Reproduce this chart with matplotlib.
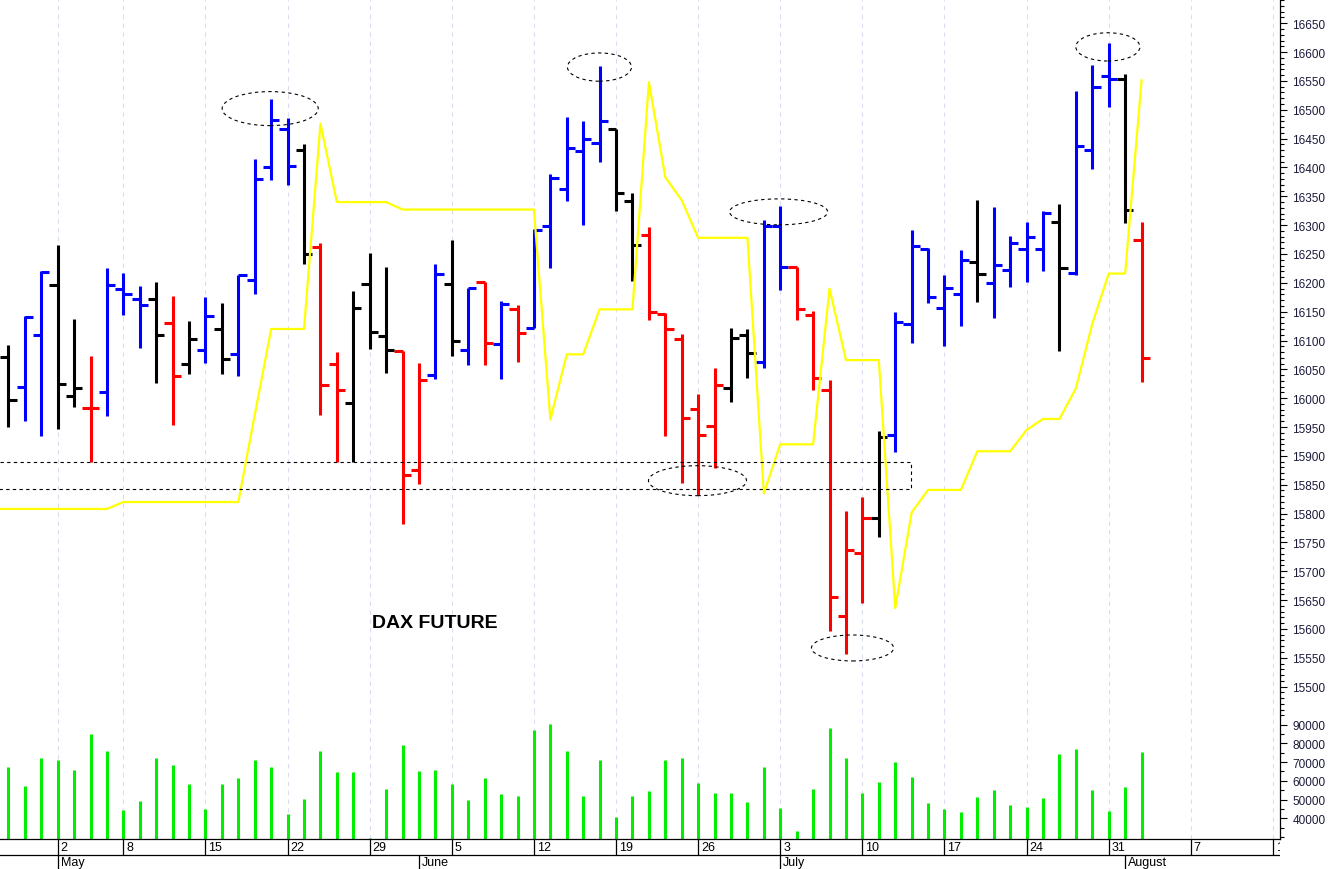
import numpy as np
import matplotlib.pyplot as plt
from matplotlib.patches import Ellipse, Rectangle
from matplotlib.ticker import MultipleLocator, FixedLocator

plt.rcParams['font.family'] = ['Liberation Sans', 'DejaVu Sans']

# daily DAX future bars, end of April to start of August
opens = [16071, 16019, 16110, 16197, 16004, 15983, 16011, 16189, 16172, 16172,
         16130, 16060, 16084, 16120, 16077, 16205, 16401, 16466, 16431, 16262,
         16060, 15992, 16198, 16108, 16082, 15875, 16041, 16198, 16083, 16201,
         16094, 16154, 16122, 16299, 16363, 16428, 16442, 16466, 16341, 16283,
         16146, 16103, 15982, 15952, 16017, 16110, 16062, 16298, 16228, 16145,
         16015, 15622, 15732, 15792, 15936, 16128, 16259, 16156, 16181, 16236,
         16199, 16223, 16258, 16258, 16305, 16217, 16431, 16558, 16554, 16275]
highs = [16093, 16142, 16220, 16266, 16138, 16073, 16226, 16217, 16195, 16201,
         16178, 16134, 16175, 16165, 16214, 16415, 16518, 16486, 16440, 16269,
         16080, 16186, 16252, 16228, 16082, 16061, 16233, 16275, 16191, 16201,
         16169, 16162, 16294, 16388, 16487, 16481, 16575, 16466, 16356, 16297,
         16147, 16112, 16008, 16052, 16122, 16120, 16309, 16333, 16228, 16152,
         16031, 15805, 15829, 15943, 16150, 16292, 16260, 16213, 16257, 16343,
         16331, 16282, 16305, 16325, 16336, 16533, 16578, 16616, 16562, 16306]
lows = [15950, 15960, 15934, 15946, 15985, 15889, 15969, 16145, 16087, 16026,
        15954, 16042, 16061, 16042, 16038, 16181, 16379, 16369, 16232, 15971,
        15890, 15889, 16086, 16044, 15782, 15851, 16034, 16074, 16058, 16057,
        16034, 16063, 16122, 16226, 16342, 16301, 16410, 16325, 16203, 16135,
        15935, 15853, 15832, 15879, 15994, 16035, 16053, 16188, 16136, 16014,
        15597, 15557, 15645, 15759, 15906, 16096, 16165, 16091, 16125, 16167,
        16139, 16193, 16201, 16220, 16082, 16214, 16398, 16505, 16304, 16028]
closes = [15997, 16141, 16219, 16025, 16017, 15983, 16197, 16181, 16162, 16110,
          16038, 16103, 16142, 16068, 16214, 16380, 16483, 16402, 16250, 16023,
          16014, 16156, 16115, 16084, 15866, 16031, 16216, 16099, 16191, 16096,
          16164, 16113, 16291, 16382, 16434, 16450, 16481, 16356, 16266, 16149,
          16120, 15966, 15936, 16023, 16104, 16078, 16299, 16228, 16155, 16035,
          15655, 15736, 15792, 15932, 16132, 16263, 16175, 16191, 16240, 16216,
          16231, 16269, 16279, 16321, 16225, 16438, 16539, 16554, 16327, 16069]
bar_colour = list("kbbkkrbbbkrkbkbbbbkrrkkkrrbkbrbrbbbbbkkrrrrrkkbbrrrrrkbbbbbkbbbbkbbbkr")

# yellow stop line, first value belongs to the bar just left of the window
stop_line = [15808,
             15808, 15808, 15808, 15808, 15808, 15808, 15808, 15820, 15820, 15820,
             15820, 15820, 15820, 15820, 15820, 15971, 16120, 16120, 16120, 16476,
             16340, 16340, 16340, 16340, 16327, 16327, 16327, 16327, 16327, 16327,
             16327, 16327, 16327, 15963, 16076, 16076, 16154, 16154, 16154, 16548,
             16383, 16343, 16278, 16278, 16278, 16278, 15835, 15920, 15920, 15920,
             16190, 16066, 16066, 16066, 15636, 15802, 15841, 15841, 15841, 15908,
             15908, 15908, 15945, 15964, 15964, 16017, 16129, 16216, 16216, 16551]

volume = [67400, 57250, 72050, 71000, 65800, 85000, 75800, 44300, 49200, 72200,
          68300, 58200, 45100, 58200, 61400, 71000, 67200, 42300, 50500, 75800,
          64600, 64600, 29300, 55700, 79000, 65100, 65800, 58200, 49600, 61500,
          53000, 51900, 87000, 90400, 75800, 51900, 71100, 40700, 51900, 54600,
          71100, 72000, 58700, 53400, 53400, 48900, 67400, 45300, 33000, 55700,
          88100, 72000, 53500, 59200, 69900, 61900, 48000, 45000, 43200, 51400,
          55100, 46900, 45900, 50700, 74400, 76900, 55100, 43700, 56600, 75300]

day_pos = [3, 7, 12, 17, 22, 27, 32, 37, 42, 47, 52, 57, 62, 67, 72, 77]
day_labels = ['2', '8', '15', '22', '29', '5', '12', '19', '26', '3', '10', '17', '24', '31', '7', '14']
month_pos = [3, 25, 47, 68]
month_labels = ['May', 'June', 'July', 'August']

# dotted annotations: (x centre, price centre, width in bars, height in points)
circles = [(15.94, 16502, 5.85, 59), (35.99, 16574, 3.9, 49), (46.9, 16323, 5.97, 45),
           (41.96, 15857, 5.97, 52), (51.4, 15567, 5.0, 45), (66.95, 16609, 3.9, 49)]
zone = (15843, 15890, 54.94)

colour_map = {'b': '#0000ff', 'r': '#ff0000', 'k': '#000000'}
x = np.arange(len(opens))
o, h, l, c = map(np.array, (opens, highs, lows, closes))
codes = np.array(bar_colour)

W, H = 1328, 870
fig = plt.figure(figsize=(W / 100, H / 100), dpi=100)
right = 1280 / W
ax_p = fig.add_axes([0, (H - 713) / H, right, 713 / H])
ax_v = fig.add_axes([0, 30 / H, right, 127 / H], sharex=ax_p)
ax_d = fig.add_axes([0, 0, right, 30 / H], sharex=ax_p)

grid_kw = dict(color='#dcdcf0', lw=0.8, ls=(0, (4, 4)))
lab_col = '#1a1a3a'

# price bars
for code, col in colour_map.items():
    m = codes == code
    ax_p.vlines(x[m], l[m], h[m], color=col, lw=2.2, zorder=2)
    ax_p.hlines(o[m], x[m] - 0.5, x[m], color=col, lw=2.2, zorder=2)
    ax_p.hlines(c[m], x[m], x[m] + 0.5, color=col, lw=2.2, zorder=2)
ax_p.plot(np.arange(-1, len(opens)), stop_line, color='#ffff00', lw=1.6, zorder=3)

for cx, cy, w, hh in circles:
    ax_p.add_patch(Ellipse((cx, cy), w, hh, fill=False, ec='black', lw=0.8, ls=(0, (3, 3)), zorder=4))
ax_p.add_patch(Rectangle((-0.8, zone[0]), zone[2] + 0.8, zone[1] - zone[0], fill=False,
                         ec='black', lw=0.8, ls=(0, (3, 3)), zorder=4))
ax_p.text(25.94, 15612, 'DAX FUTURE', ha='center', va='center', fontsize=14, fontweight='bold')

ax_p.set_ylim(15456, 16692)
ax_p.yaxis.tick_right()
ax_p.yaxis.set_major_locator(MultipleLocator(50))
ax_p.yaxis.set_minor_locator(MultipleLocator(10))
ax_p.set_yticks(np.arange(15500, 16651, 50))
ax_p.tick_params(axis='y', which='major', length=5, width=0.8, pad=4, labelsize=8.5, labelcolor=lab_col)
ax_p.tick_params(axis='y', which='minor', length=3, width=0.8)

# volume
vol_bottom = 28940
ax_v.vlines(x, vol_bottom, volume, color='#00ee00', lw=2.2)
ax_v.set_ylim(vol_bottom, 96780)
ax_v.yaxis.tick_right()
ax_v.yaxis.set_major_locator(FixedLocator(range(40000, 90001, 10000)))
ax_v.yaxis.set_minor_locator(MultipleLocator(5000))
ax_v.tick_params(axis='y', which='major', length=5, width=0.8, pad=4, labelsize=8.5, labelcolor=lab_col)
ax_v.tick_params(axis='y', which='minor', length=3, width=0.8)

for ax in (ax_p, ax_v):
    ax.set_xticks(day_pos)
    ax.tick_params(axis='x', length=0, labelbottom=False)
    ax.grid(axis='x', **grid_kw)
    ax.set_axisbelow(True)
    for s in ('top', 'left'):
        ax.spines[s].set_visible(False)
    ax.spines['right'].set_linewidth(0.9)
ax_p.spines['bottom'].set_visible(False)
ax_v.spines['bottom'].set_linewidth(0.9)

# date band
ax_d.set_ylim(0, 1)
ax_d.axis('off')
mid = 14 / 30
ax_d.axhline(mid, color='black', lw=0.9)
ax_d.vlines(day_pos, mid, 1, color='black', lw=0.9)
ax_d.vlines(month_pos, 0, mid, color='black', lw=0.9)
for p, t in zip(day_pos, day_labels):
    ax_d.text(p + 0.18, 0.74, t, ha='left', va='center', fontsize=9, clip_on=True)
for p, t in zip(month_pos, month_labels):
    ax_d.text(p + 0.18, 0.44, t, ha='left', va='top', fontsize=9, clip_on=True)

ax_p.set_xlim(-0.512, 77.43)
fig.savefig('out.png', dpi=100)
